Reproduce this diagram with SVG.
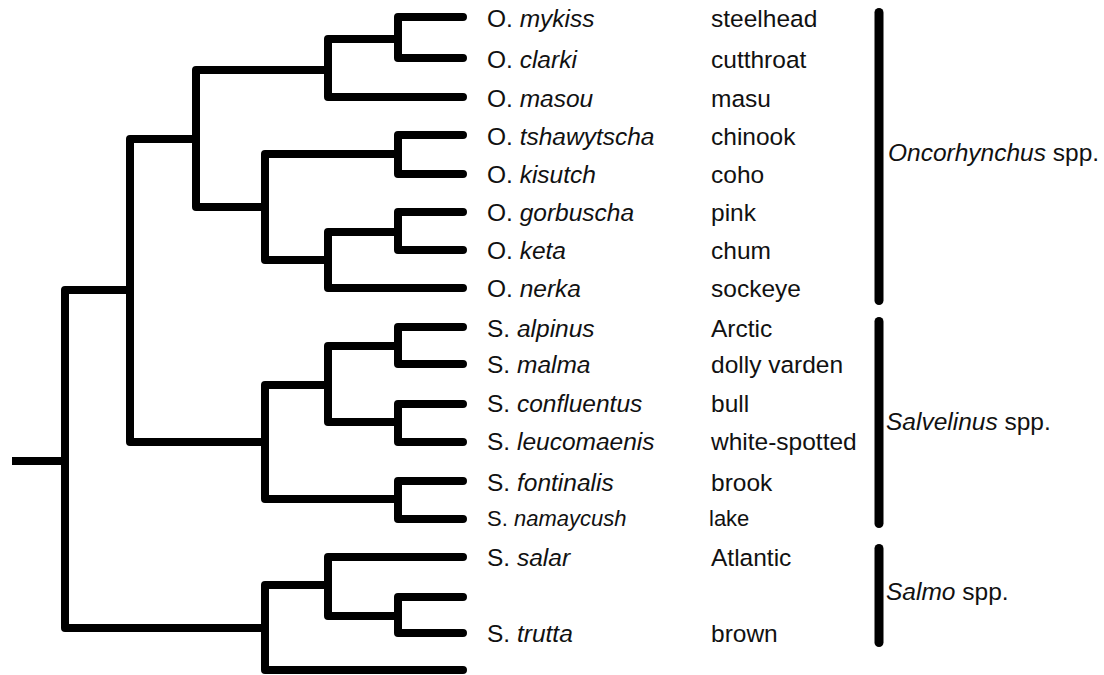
<svg xmlns="http://www.w3.org/2000/svg" width="1104" height="675" viewBox="0 0 1104 675">
<style>
.e{fill:none;stroke:#000;stroke-width:8;stroke-linecap:round;stroke-linejoin:round}
.r{fill:none;stroke:#000;stroke-width:8;stroke-linecap:butt}
.b{fill:none;stroke:#000;stroke-width:9;stroke-linecap:round}
text{font-family:"Liberation Sans",Arial,sans-serif;font-size:24.5px;fill:#111}
.i{font-style:italic}
.s{font-size:22px}
</style>
<rect width="1104" height="675" fill="#fff"/>
<g id="connectors">
<path class="r" d="M12 461H65"/>
<path id="root" class="e" d="M130 290H65V628H265"/>
<path id="M" class="e" d="M196 139H130V442H265"/>
<path id="G" class="e" d="M328 70H196V207H265"/>
<path id="B" class="e" d="M398 39H328V97H463"/>
<path id="A" class="e" d="M463 17H398V58H463"/>
<path id="F" class="e" d="M398 154H265V260H328"/>
<path id="C" class="e" d="M463 135H398V174H463"/>
<path id="E" class="e" d="M398 232H328V288H463"/>
<path id="D" class="e" d="M463 212H398V250H463"/>
<path id="L" class="e" d="M328 385H265V499H398"/>
<path id="J" class="e" d="M398 346H328V422H398"/>
<path id="H" class="e" d="M463 327H398V364H463"/>
<path id="I" class="e" d="M463 404H398V442H463"/>
<path id="K" class="e" d="M463 481H398V519H463"/>
<path id="P" class="e" d="M328 585H265V670H463"/>
<path id="N" class="e" d="M463 557H328V616H398"/>
<path id="O" class="e" d="M463 597H398V633H463"/>
</g>
<g id="mykiss"><text x="487" y="27">O. <tspan class="i">mykiss</tspan></text><text x="711" y="27">steelhead</text></g>
<g id="clarki"><text x="487" y="68">O. <tspan class="i">clarki</tspan></text><text x="711" y="68">cutthroat</text></g>
<g id="masou"><text x="487" y="107">O. <tspan class="i">masou</tspan></text><text x="711" y="107">masu</text></g>
<g id="tshawytscha"><text x="487" y="145">O. <tspan class="i">tshawytscha</tspan></text><text x="711" y="145">chinook</text></g>
<g id="kisutch"><text x="487" y="183">O. <tspan class="i">kisutch</tspan></text><text x="711" y="183">coho</text></g>
<g id="gorbuscha"><text x="487" y="221">O. <tspan class="i">gorbuscha</tspan></text><text x="711" y="221">pink</text></g>
<g id="keta"><text x="487" y="259">O. <tspan class="i">keta</tspan></text><text x="711" y="259">chum</text></g>
<g id="nerka"><text x="487" y="297">O. <tspan class="i">nerka</tspan></text><text x="711" y="297">sockeye</text></g>
<g id="alpinus"><text x="487" y="337">S. <tspan class="i">alpinus</tspan></text><text x="711" y="337">Arctic</text></g>
<g id="malma"><text x="487" y="373">S. <tspan class="i">malma</tspan></text><text x="711" y="373">dolly varden</text></g>
<g id="confluentus"><text x="487" y="412">S. <tspan class="i">confluentus</tspan></text><text x="711" y="412">bull</text></g>
<g id="leucomaenis"><text x="487" y="450">S. <tspan class="i">leucomaenis</tspan></text><text x="711" y="450">white-spotted</text></g>
<g id="fontinalis"><text x="487" y="491">S. <tspan class="i">fontinalis</tspan></text><text x="711" y="491">brook</text></g>
<g id="namaycush"><text class="s" x="487" y="526">S. <tspan class="i">namaycush</tspan></text><text class="s" x="709" y="526">lake</text></g>
<g id="salar"><text x="487" y="566">S. <tspan class="i">salar</tspan></text><text x="711" y="566">Atlantic</text></g>
<g id="trutta"><text x="487" y="642">S. <tspan class="i">trutta</tspan></text><text x="711" y="642">brown</text></g>
<g id="oncorhynchus"><path class="b" d="M879 12.5V300.5"/><text x="888" y="161"><tspan class="i">Oncorhynchus</tspan> spp.</text></g>
<g id="salvelinus"><path class="b" d="M879 321.5V523.5"/><text x="886" y="430"><tspan class="i">Salvelinus</tspan> spp.</text></g>
<g id="salmo"><path class="b" d="M879 548.5V642.5"/><text x="886" y="600"><tspan class="i">Salmo</tspan> spp.</text></g>
</svg>
